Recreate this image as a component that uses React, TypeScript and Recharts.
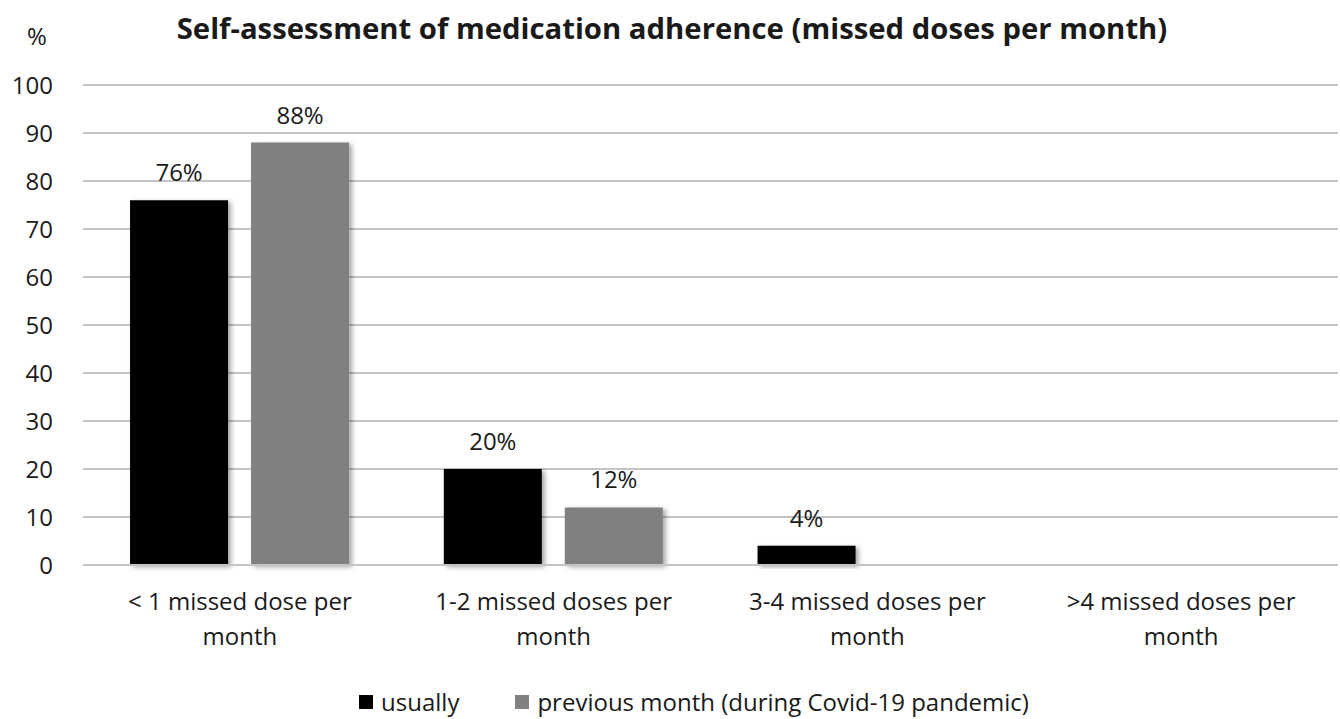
import { BarChart, Bar, XAxis, YAxis, CartesianGrid, Legend, LabelList } from 'recharts';

const CATEGORIES = [
  '< 1 missed dose per month',
  '1-2 missed doses per month',
  '3-4 missed doses per month',
  '>4 missed doses per month',
];
const USUALLY = [76, 20, 4, 0];
const PREVIOUS_MONTH = [88, 12, 0, 0];
const Y_TICKS = [0, 10, 20, 30, 40, 50, 60, 70, 80, 90, 100];

const SERIES = [
  { key: 'usually', name: 'usually', color: '#000000' },
  { key: 'previous', name: 'previous month (during Covid-19 pandemic)', color: '#808080' },
];

const data = CATEGORIES.map((name, i) => ({
  name,
  usually: USUALLY[i],
  previous: PREVIOUS_MONTH[i],
}));

const FONT = '"Open Sans", Lato, sans-serif';
const TEXT = '#1a1a1a';
const FS = 24;

// split label before the last word, like the wrapped Excel labels
function CategoryTick({ x, y, payload }: any) {
  const words = String(payload.value).split(' ');
  const lines = [words.slice(0, -1).join(' '), words[words.length - 1]];
  return (
    <g transform={`translate(${x},${y})`}>
      {lines.map((line, i) => (
        <text
          key={i}
          x={0}
          y={i * 35}
          dy={37}
          textAnchor="middle"
          fontSize={FS}
          fontFamily={FONT}
          fill={TEXT}
        >
          {line}
        </text>
      ))}
    </g>
  );
}

function LegendContent() {
  return (
    <div
      style={{
        display: 'flex',
        justifyContent: 'center',
        alignItems: 'center',
        paddingTop: 23,
        fontFamily: FONT,
        fontSize: FS,
        color: TEXT,
        lineHeight: '28px',
        paddingLeft: 50,
      }}
    >
      {SERIES.map((s, i) => (
        <div key={s.key} style={{ display: 'flex', alignItems: 'center', marginLeft: i ? 56 : 0 }}>
          <span style={{ width: 14, height: 14, background: s.color, display: 'inline-block', marginRight: 8 }} />
          <span>{s.name}</span>
        </div>
      ))}
    </div>
  );
}

export default function App() {
  return (
    <div style={{ position: 'relative', width: 1340, height: 719, background: '#fff', fontFamily: FONT }}>
      <style>{'body{margin:0}'}</style>
      <div
        style={{
          position: 'absolute',
          top: 8,
          left: 0,
          width: 1340,
          textAlign: 'center',
          fontWeight: 'bold',
          fontSize: 29.3,
          color: TEXT,
          paddingLeft: 2,
        }}
      >
        Self-assessment of medication adherence (missed doses per month)
      </div>
      <div style={{ position: 'absolute', top: 19, left: 27, fontSize: FS, color: TEXT }}>%</div>
      <BarChart
        width={1340}
        height={719}
        data={data}
        margin={{ top: 85, right: 2, left: 0, bottom: 0 }}
        barCategoryGap="15%"
        barGap={23}
      >
        <defs>
          <filter id="barShadow" x="-10%" y="-10%" width="130%" height="130%">
            <feDropShadow dx="3" dy="2" stdDeviation="2.5" floodColor="#000" floodOpacity="0.35" />
          </filter>
        </defs>
        <CartesianGrid vertical={false} stroke="#c4c4c4" strokeWidth={2} />
        <XAxis
          dataKey="name"
          axisLine={{ stroke: '#c4c4c4', strokeWidth: 2 }}
          tickLine={false}
          tick={<CategoryTick />}
          interval={0}
          height={100}
        />
        <YAxis
          domain={[0, 100]}
          ticks={Y_TICKS}
          axisLine={false}
          tickLine={false}
          width={83}
          tickMargin={24}
          tick={{ fontSize: FS, fill: TEXT, fontFamily: FONT }}
        />
        <Legend verticalAlign="bottom" height={54} content={<LegendContent />} />
        {SERIES.map((s) => (
          <Bar
            key={s.key}
            dataKey={s.key}
            name={s.name}
            fill={s.color}
            filter="url(#barShadow)"
            isAnimationActive={false}
          >
            <LabelList
              dataKey={s.key}
              position="top"
              offset={19}
              formatter={(v: any) => (v > 0 ? `${v}%` : '')}
              style={{ fontSize: FS, fill: TEXT, fontFamily: FONT }}
            />
          </Bar>
        ))}
      </BarChart>
    </div>
  );
}
